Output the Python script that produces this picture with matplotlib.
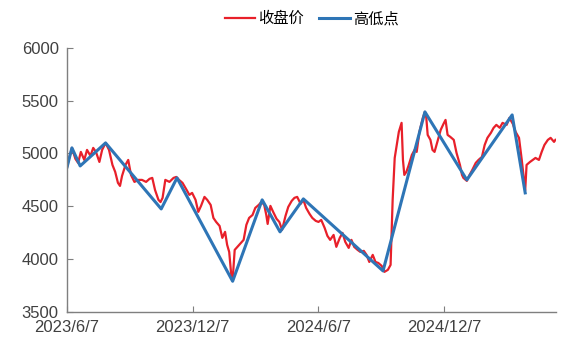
import pandas as pd
import matplotlib.pyplot as plt

plt.rcParams['font.family'] = ['Liberation Sans', 'Noto Sans CJK SC', 'DejaVu Sans']

# closing price
close_dates = [
    '2023-06-07', '2023-06-10', '2023-06-14', '2023-06-19', '2023-06-23', '2023-06-27',
    '2023-07-02', '2023-07-06', '2023-07-11', '2023-07-15', '2023-07-19', '2023-07-24',
    '2023-07-28', '2023-08-02', '2023-08-07', '2023-08-12', '2023-08-16', '2023-08-20',
    '2023-08-23', '2023-08-26', '2023-08-31', '2023-09-04', '2023-09-08', '2023-09-13',
    '2023-09-19', '2023-09-24', '2023-09-30', '2023-10-05', '2023-10-09', '2023-10-13',
    '2023-10-18', '2023-10-21', '2023-10-24', '2023-10-28', '2023-11-03', '2023-11-09',
    '2023-11-13', '2023-11-17', '2023-11-22', '2023-11-28', '2023-12-02', '2023-12-06',
    '2023-12-11', '2023-12-15', '2023-12-19', '2023-12-24', '2023-12-28', '2024-01-02',
    '2024-01-06', '2024-01-10', '2024-01-15', '2024-01-19', '2024-01-23', '2024-01-26',
    '2024-01-29', '2024-02-01', '2024-02-03', '2024-02-06', '2024-02-10', '2024-02-14',
    '2024-02-19', '2024-02-23', '2024-02-27', '2024-03-03', '2024-03-07', '2024-03-12',
    '2024-03-16', '2024-03-20', '2024-03-23', '2024-03-25', '2024-03-29', '2024-04-02',
    '2024-04-07', '2024-04-11', '2024-04-15', '2024-04-20', '2024-04-24', '2024-04-29',
    '2024-05-03', '2024-05-07', '2024-05-12', '2024-05-16', '2024-05-20', '2024-05-25',
    '2024-05-29', '2024-06-03', '2024-06-07', '2024-06-11', '2024-06-16', '2024-06-20',
    '2024-06-24', '2024-06-29', '2024-07-03', '2024-07-08', '2024-07-12', '2024-07-16',
    '2024-07-21', '2024-07-25', '2024-07-29', '2024-08-03', '2024-08-07', '2024-08-12',
    '2024-08-16', '2024-08-20', '2024-08-25', '2024-08-29', '2024-09-02', '2024-09-07',
    '2024-09-11', '2024-09-16', '2024-09-20', '2024-09-23', '2024-09-26', '2024-09-29',
    '2024-10-02', '2024-10-06', '2024-10-08', '2024-10-10', '2024-10-13', '2024-10-16',
    '2024-10-21', '2024-10-25', '2024-10-28', '2024-11-01', '2024-11-06', '2024-11-09',
    '2024-11-11', '2024-11-13', '2024-11-17', '2024-11-20', '2024-11-23', '2024-11-28',
    '2024-12-02', '2024-12-06', '2024-12-09', '2024-12-12', '2024-12-16', '2024-12-21',
    '2024-12-25', '2024-12-30', '2025-01-02', '2025-01-04', '2025-01-09', '2025-01-13',
    '2025-01-17', '2025-01-22', '2025-01-26', '2025-01-31', '2025-02-04', '2025-02-08',
    '2025-02-13', '2025-02-17', '2025-02-21', '2025-02-26', '2025-03-02', '2025-03-08',
    '2025-03-12', '2025-03-17', '2025-03-21', '2025-03-26', '2025-03-30', '2025-04-04',
    '2025-04-06', '2025-04-11', '2025-04-15', '2025-04-19', '2025-04-24', '2025-04-28',
    '2025-05-02', '2025-05-07', '2025-05-11', '2025-05-16', '2025-05-18',
]
close_values = [
    4873, 4958, 5053, 4950, 4911, 5015,
    4939, 5034, 4977, 5053, 5015, 4920,
    5034, 5100, 5034, 4892, 4826, 4722,
    4693, 4788, 4892, 4939, 4797, 4731,
    4750, 4750, 4731, 4760, 4769, 4655,
    4561, 4540, 4580, 4750, 4731, 4769,
    4778, 4750, 4722, 4655, 4608, 4627,
    4561, 4447, 4504, 4589, 4561, 4513,
    4390, 4352, 4314, 4201, 4258, 4135,
    4068, 3850, 3800, 4087, 4116, 4144,
    4182, 4324, 4390, 4418, 4485, 4513,
    4542, 4513, 4418, 4333, 4504, 4447,
    4381, 4352, 4277, 4409, 4494, 4551,
    4580, 4589, 4523, 4561, 4485, 4428,
    4390, 4362, 4352, 4371, 4295, 4220,
    4182, 4229, 4116, 4201, 4248, 4163,
    4106, 4182, 4116, 4087, 4068, 4078,
    4040, 3973, 4040, 3973, 3964, 3936,
    3879, 3898, 3945, 4561, 4958, 5081,
    5205, 5290, 4939, 4797, 4826, 4882,
    4987, 5034, 5015, 5205, 5337, 5394,
    5337, 5176, 5129, 5034, 5015, 5129,
    5224, 5280, 5318, 5176, 5157, 5129,
    5006, 4892, 4797, 4769, 4741, 4797,
    4845, 4911, 4939, 4968, 5081, 5148,
    5195, 5243, 5271, 5243, 5290, 5271,
    5337, 5280, 5205, 5148, 4939, 4650,
    4892, 4920, 4939, 4958, 4939, 5015,
    5081, 5129, 5148, 5110, 5129,
]

# zigzag of highs and lows
pivot_dates = [
    '2023-06-07', '2023-06-14', '2023-06-26', '2023-08-02', '2023-10-22', '2023-11-14',
    '2024-02-03', '2024-03-17', '2024-04-12', '2024-05-16', '2024-09-09', '2024-11-09',
    '2025-01-09', '2025-03-16', '2025-04-04',
]
pivot_values = [
    4873, 5053, 4882, 5100, 4475, 4769,
    3790, 4561, 4258, 4570, 3888, 5394,
    4750, 5365, 4627,
]

tick_dates = ['2023-06-07', '2023-12-07', '2024-06-07', '2024-12-07']
tick_labels = ['2023/6/7', '2023/12/7', '2024/6/7', '2024/12/7']

fig = plt.figure(figsize=(5.64, 3.42), dpi=100)
ax = fig.add_axes([0.119, 0.088, 0.867, 0.772])

ax.plot(pd.to_datetime(close_dates), close_values, color='#e8202a', lw=1.6, label='收盘价')
ax.plot(pd.to_datetime(pivot_dates), pivot_values, color='#2e75b6', lw=2.2, label='高低点')

ax.set_xlim(pd.Timestamp('2023-06-07'), pd.Timestamp('2025-05-19'))
ax.set_ylim(3500, 6000)
ax.set_yticks(range(3500, 6001, 500))
ax.set_xticks(pd.to_datetime(tick_dates))
ax.set_xticklabels(tick_labels)

for s in ['top', 'right']:
    ax.spines[s].set_visible(False)
for s in ['left', 'bottom']:
    ax.spines[s].set_color('#7f7f7f')
    ax.spines[s].set_linewidth(1.0)
ax.tick_params(direction='in', length=4, color='#7f7f7f', labelsize=12,
               labelcolor='#404040', pad=6)

ax.legend(loc='upper center', bbox_to_anchor=(0.50, 1.195), ncol=2, frameon=False,
          prop={'family': ['Noto Sans CJK SC', 'DejaVu Sans'], 'size': 11},
          handlelength=2.0, handletextpad=0.2, columnspacing=1.0)

fig.savefig('out.png', dpi=100)
